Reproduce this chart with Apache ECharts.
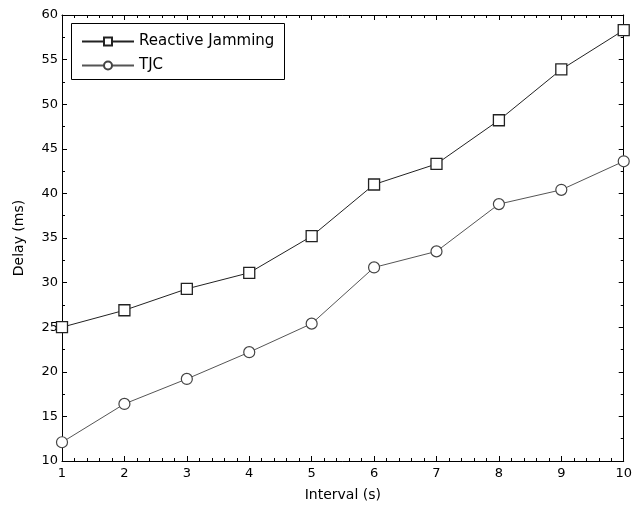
<!DOCTYPE html>
<html><head><meta charset="utf-8">
<script src="https://cdn.jsdelivr.net/npm/echarts@6/dist/echarts.min.js"></script>
<style>html,body{margin:0;padding:0;background:#fff}#c{width:635px;height:508px}</style>
</head><body><div id="c"></div>
<script>
var intervals = [1,2,3,4,5,6,7,8,9,10];
var reactiveJamming = [25.0,26.9,29.3,31.1,35.2,41.0,43.3,48.2,53.9,58.3];
var tjc = [12.1,16.4,19.2,22.2,25.4,31.7,33.5,38.8,40.4,43.6];
var seriesNames = ['Reactive Jamming','TJC'];

function pairs(xs, ys){ return xs.map(function(x,i){ return [x, ys[i]]; }); }

var font = 'DejaVu Sans';
var chart = echarts.init(document.getElementById('c'), null, {renderer:'canvas'});
var axisCommon = {
  type:'value',
  axisLine:{show:true, lineStyle:{color:'#000', width:1}},
  axisTick:{show:true, inside:true, length:5, lineStyle:{color:'#000'}},
  minorTick:{show:true, length:3, lineStyle:{color:'#000'}},
  splitLine:{show:false},
  minorSplitLine:{show:false}
};
chart.setOption({
  animation:false,
  backgroundColor:'#fff',
  grid:{left:62, right:8, top:15, bottom:47, containLabel:false},
  legend:{
    left:81, top:34, orient:'vertical', itemWidth:52, itemHeight:10, itemGap:9,
    padding:0,
    textStyle:{fontFamily:font, fontSize:15, color:'#000'},
    data:seriesNames
  },
  graphic:[{type:'rect', shape:{x:71.5, y:23.5, width:213, height:56}, style:{fill:'none', stroke:'#000', lineWidth:1}, z:100}],
  xAxis:[
    Object.assign({}, axisCommon, {min:1, max:10, interval:1, position:'bottom',
      minorTick:{show:true, splitNumber:5, length:3, lineStyle:{color:'#000'}},
      axisLabel:{fontFamily:font, fontSize:13, color:'#000', margin:6},
      name:'Interval (s)', nameLocation:'middle', nameGap:27,
      nameTextStyle:{fontFamily:font, fontSize:14, color:'#000'}}),
    Object.assign({}, axisCommon, {min:1, max:10, interval:1, position:'top',
      minorTick:{show:true, splitNumber:5, length:3, lineStyle:{color:'#000'}},
      axisLabel:{show:false}})
  ],
  yAxis:[
    Object.assign({}, axisCommon, {min:10, max:60, interval:5, position:'left',
      minorTick:{show:true, splitNumber:2, length:3, lineStyle:{color:'#000'}},
      axisLabel:{fontFamily:font, fontSize:13, color:'#000', margin:4},
      name:'Delay (ms)', nameLocation:'middle', nameGap:36, nameRotate:90,
      nameTextStyle:{fontFamily:font, fontSize:14, color:'#000'}}),
    Object.assign({}, axisCommon, {min:10, max:60, interval:5, position:'right',
      minorTick:{show:true, splitNumber:2, length:3, lineStyle:{color:'#000'}},
      axisLabel:{show:false}})
  ],
  series:[
    {name:seriesNames[0], type:'line', data:pairs(intervals, reactiveJamming),
     symbol:'rect', symbolSize:11, showAllSymbol:true,
     lineStyle:{color:'#222', width:1},
     itemStyle:{color:'#fff', borderColor:'#222', borderWidth:1.3},
     emphasis:{disabled:true}},
    {name:seriesNames[1], type:'line', data:pairs(intervals, tjc),
     symbol:'circle', symbolSize:11, showAllSymbol:true,
     lineStyle:{color:'#555', width:1},
     itemStyle:{color:'#fff', borderColor:'#444', borderWidth:1.2},
     emphasis:{disabled:true}}
  ]
});
</script></body></html>
